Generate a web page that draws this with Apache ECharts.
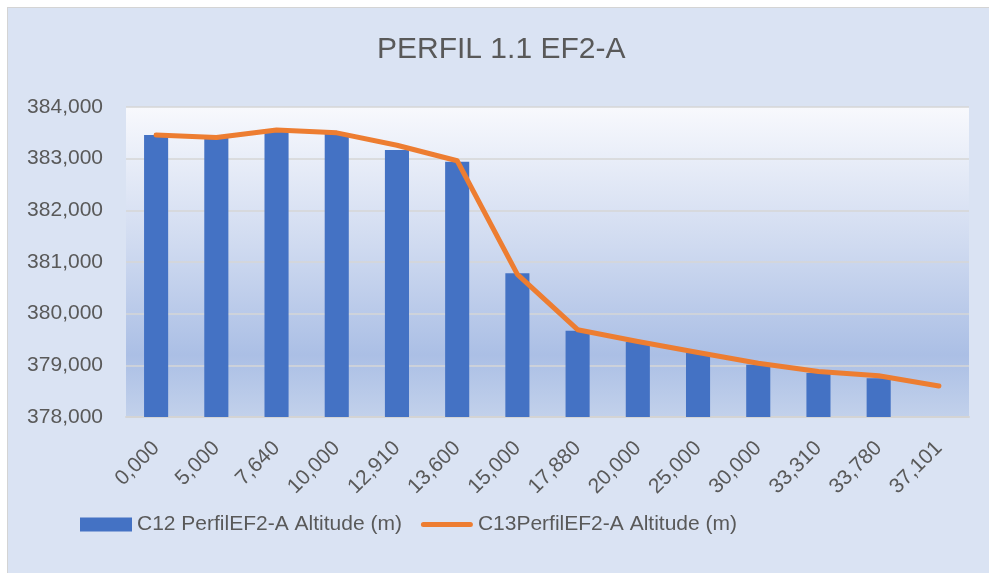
<!DOCTYPE html>
<html>
<head>
<meta charset="utf-8">
<script src="https://cdn.jsdelivr.net/npm/echarts@6/dist/echarts.min.js"></script>
<style>
  html, body { margin: 0; padding: 0; background: #ffffff; }
  #bg {
    position: absolute; left: 7px; top: 7px; width: 982px; height: 566px;
    background: #dae3f3; border-left: 1px solid #d4d4d4; border-top: 1px solid #d4d4d4;
  }
  #chart { position: absolute; left: 0; top: 0; width: 989px; height: 573px; }
</style>
</head>
<body>
<div id="bg"></div>
<div id="chart"></div>
<script>
// distancias (km)
const categories = ['0,000', '5,000', '7,640', '10,000', '12,910', '13,600', '15,000',
  '17,880', '20,000', '25,000', '30,000', '33,310', '33,780', '37,101']

// altitude (m)
const c12Values = [383.46, 383.40, 383.52, 383.48, 383.17, 382.94, 380.78,
  379.67, 379.45, 379.24, 379.01, 378.85, 378.75, null]
const c13Values = [383.46, 383.41, 383.555, 383.50, 383.26, 382.96, 380.76,
  379.69, 379.46, 379.25, 379.04, 378.88, 378.80, 378.60]

const yMin = 378
const yMax = 384
const yStep = 1

const fmt = v => v.toFixed(3).replace('.', ',')

const textColor = '#595959'
const font = 'Liberation Sans, Arial, sans-serif'

// legend icon for the line: thin band inside a 52x14 box (tiny corner triangles keep the box)
const lineIcon = 'path://M0,0L0.01,0L0,0.01Z' +
  'M2.5,4.5L49.5,4.5A2.5,2.5,0,0,1,49.5,9.5L2.5,9.5A2.5,2.5,0,0,1,2.5,4.5Z' +
  'M52,14L51.99,14L52,13.99Z'

const chart = echarts.init(document.getElementById('chart'))
chart.setOption({
  animation: false,
  backgroundColor: 'transparent',
  textStyle: { fontFamily: font },
  title: {
    text: 'PERFIL 1.1 EF2-A',
    left: 377,
    top: 35,
    padding: 0,
    textStyle: { color: textColor, fontSize: 30, fontWeight: 'normal', fontFamily: font }
  },
  legend: {
    left: 80,
    top: 514,
    padding: 0,
    itemWidth: 52,
    itemHeight: 14,
    itemGap: 19,
    textStyle: { color: textColor, fontSize: 21, fontFamily: font },
    data: [
      { name: 'C12 PerfilEF2-A Altitude (m)', icon: 'rect' },
      { name: 'C13PerfilEF2-A Altitude (m)', icon: lineIcon }
    ]
  },
  grid: {
    left: 126,
    right: 20,
    top: 107,
    bottom: 156,
    show: true,
    borderWidth: 0,
    backgroundColor: new echarts.graphic.LinearGradient(0, 0, 0, 1, [
      { offset: 0, color: '#f8f9fd' },
      { offset: 0.45, color: '#cfdaf0' },
      { offset: 0.8, color: '#abbfe5' },
      { offset: 1, color: '#c2d1eb' }
    ])
  },
  xAxis: {
    type: 'category',
    data: categories,
    axisTick: { show: false },
    axisLine: { show: true, lineStyle: { color: '#d4d4d4', width: 2 } },
    axisLabel: {
      interval: 0,
      rotate: 45,
      margin: 28,
      color: textColor,
      fontSize: 21,
      fontFamily: font
    }
  },
  yAxis: {
    type: 'value',
    min: yMin,
    max: yMax,
    interval: yStep,
    axisLine: { show: false },
    axisTick: { show: false },
    splitLine: { lineStyle: { color: '#d6d6d6', width: 1.5 } },
    axisLabel: {
      margin: 23,
      color: textColor,
      fontSize: 21,
      fontFamily: font,
      formatter: fmt
    }
  },
  series: [
    {
      name: 'C12 PerfilEF2-A Altitude (m)',
      type: 'bar',
      barWidth: '40%',
      itemStyle: { color: '#4472c4' },
      data: c12Values
    },
    {
      name: 'C13PerfilEF2-A Altitude (m)',
      type: 'line',
      symbol: 'none',
      lineStyle: { color: '#ed7d31', width: 5, cap: 'round', join: 'round' },
      itemStyle: { color: '#ed7d31' },
      data: c13Values
    }
  ]
})
</script>
</body>
</html>
